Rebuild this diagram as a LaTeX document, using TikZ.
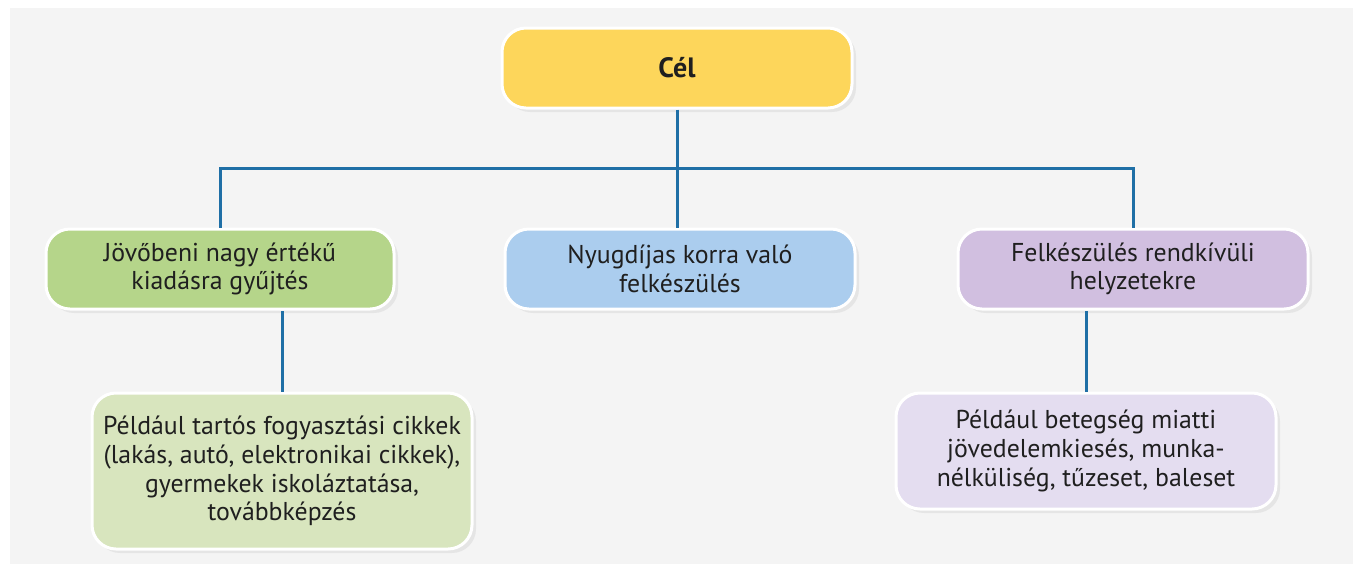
\documentclass[tikz,border=0pt]{standalone}
\usepackage{fontspec}
\setmainfont{PT Sans}
\usetikzlibrary{calc,shadows}
\definecolor{panelgray}{HTML}{F4F4F4}
\definecolor{linkblue}{HTML}{1F6FA6}
\definecolor{goalyellow}{HTML}{FDD65B}
\definecolor{savegreen}{HTML}{B5D58A}
\definecolor{pensionblue}{HTML}{ABCDEE}
\definecolor{emergpurple}{HTML}{D1BFE0}
\definecolor{saveexgreen}{HTML}{D8E5BE}
\definecolor{emergexpurple}{HTML}{E4DDF0}
\tikzset{
  box/.style={draw=white, line width=1.5pt, rounded corners=12pt, align=center,
    inner sep=4pt, font=\fontsize{12.9}{14.3}\selectfont, text=black!88,
    drop shadow={opacity=0.12, shadow xshift=2pt, shadow yshift=-2pt}},
  link/.style={draw=linkblue, line width=1.5pt},
}
\begin{document}
\begin{tikzpicture}[x=0.5pt, y=-0.5pt]
  % background
  \fill[white] (0,0) rectangle (1357,564);
  \fill[panelgray] (10,8) rectangle (1353,564);
  \useasboundingbox (0,0) rectangle (1357,564);

  \node[box, fill=goalyellow, minimum width=175pt, minimum height=40pt,
    font=\fontsize{14}{16}\selectfont\bfseries] (goal) at (677,68) {Cél};

  \node[box, fill=savegreen, minimum width=174pt, minimum height=40pt] (save) at (220,269)
    {Jövőbeni nagy értékű\\kiadásra gyűjtés};
  \node[box, fill=pensionblue, minimum width=175pt, minimum height=40pt] (pension) at (680,269)
    {Nyugdíjas korra való\\felkészülés};
  \node[box, fill=emergpurple, minimum width=175pt, minimum height=40pt] (emerg) at (1133,269)
    {Felkészülés rendkívüli\\helyzetekre};

  \node[box, fill=saveexgreen, minimum width=190pt, minimum height=78pt] (saveex) at (282,471)
    {Például tartós fogyasztási cikkek\\(lakás, autó, elektronikai cikkek),\\gyermekek iskoláztatása,\\továbbképzés};
  \node[box, fill=emergexpurple, minimum width=190pt, minimum height=58pt] (emergex) at (1086,451)
    {Például betegség miatti\\jövedelemkiesés, munka-\\nélküliség, tűzeset, baleset};

  % connectors
  \coordinate (bar) at ($(goal.south)!0.5!(pension.north)$);
  \draw[link] (goal.south) -- (goal.south |- pension.north);
  \draw[link] (save.north) |- (bar) -| (emerg.north);
  \draw[link] (saveex.north) -- (saveex.north |- save.south);
  \draw[link] (emergex.north) -- (emergex.north |- emerg.south);
\end{tikzpicture}
\end{document}
